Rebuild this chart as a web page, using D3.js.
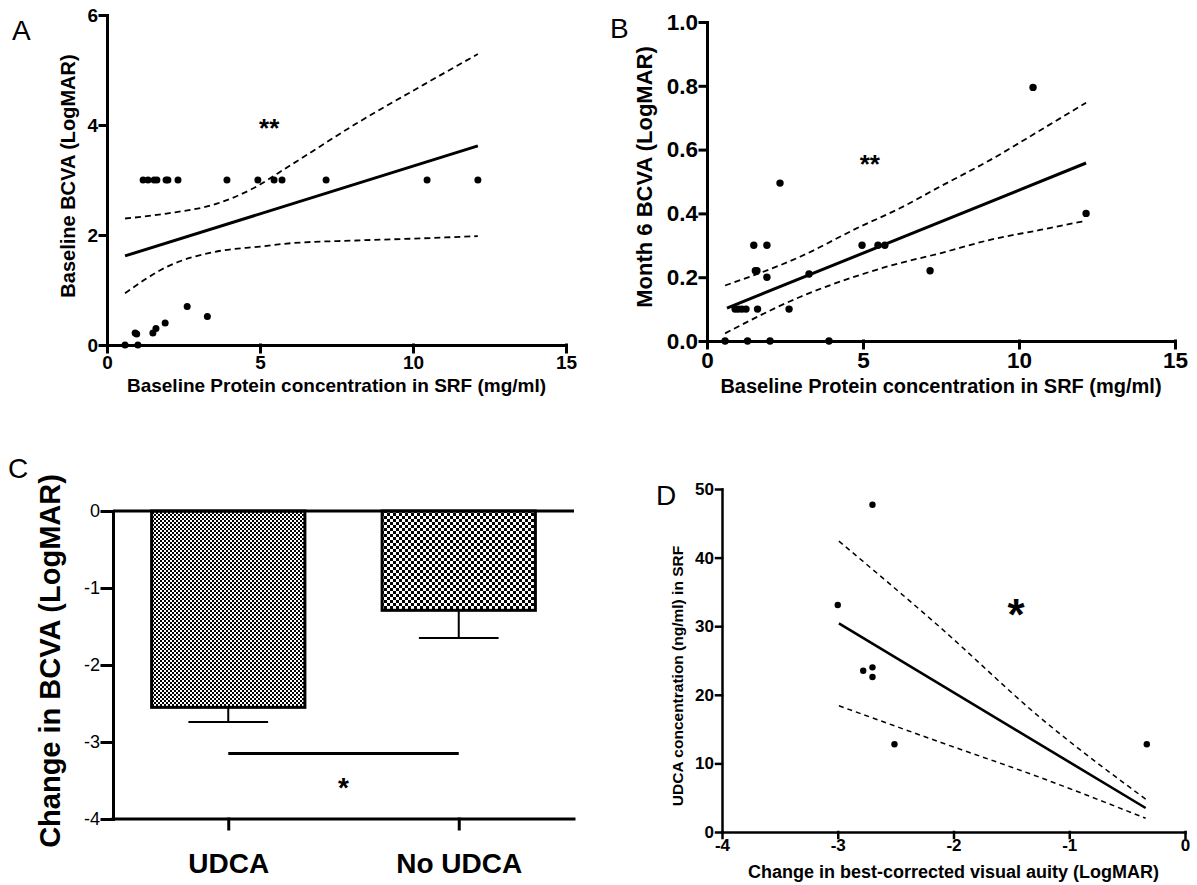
<!DOCTYPE html>
<html lang="en">
<head>
<meta charset="UTF-8">
<title>BCVA vs SRF protein / UDCA</title>
<style>
    body { margin: 0; background: #fff; }
    svg { display: block; font-family: Arial, "Liberation Sans", sans-serif; }
    .axis path, .axis line { stroke: #000; }
    .axis text { fill: #000; font-weight: bold; }
    .title { font-weight: bold; fill: #000; }
    .letter { font-weight: normal; fill: #000; }
</style>
</head>
<body>
<svg id="fig"></svg>
<script src="https://cdn.jsdelivr.net/npm/d3@7"></script>
<script>
    // panel A - baseline BCVA vs protein
    var aProtein  = [0.59, 0.92, 0.97, 1.01, 1.18, 1.34, 1.5, 1.54, 1.6, 1.63, 1.9, 1.93, 1.99, 2.32, 2.62, 3.28, 3.92, 4.93, 5.46, 5.72, 7.16, 10.46, 12.12];
    var aBaseline = [0, 0.22, 0.2, 0, 3, 3, 0.22, 3, 0.3, 3, 0.4, 3, 3, 3, 0.7, 0.52, 3, 3, 3, 3, 3, 3, 3];
    var aFitX = [0.59, 12.12], aFitY = [1.62, 3.62];
    var aUpX = [0.59, 1.95, 3.59, 4.68, 6.0, 8.16, 10.34, 12.12];
    var aUpY = [2.30, 2.39, 2.57, 2.82, 3.27, 4.03, 4.73, 5.29];
    var aLoX = [0.59, 1.95, 3.59, 5.0, 6.0, 8.16, 10.34, 12.12];
    var aLoY = [0.94, 1.42, 1.70, 1.79, 1.85, 1.90, 1.94, 1.98];

    // panel B - month 6 BCVA vs protein
    var bProtein = [0.58, 0.9, 1.0, 1.12, 1.25, 1.3, 1.5, 1.55, 1.6, 1.62, 1.92, 1.92, 2.02, 2.34, 2.63, 3.27, 3.91, 4.97, 5.48, 5.7, 7.15, 10.45, 12.15];
    var bMonth6  = [0, 0.1, 0.1, 0.1, 0.1, 0, 0.3, 0.22, 0.22, 0.1, 0.2, 0.3, 0, 0.495, 0.1, 0.21, 0, 0.3, 0.3, 0.3, 0.22, 0.795, 0.4];
    var bFitX = [0.64, 12.15], bFitY = [0.103, 0.558];
    var bUpX = [0.58, 2.98, 4.9, 6.18, 7.47, 9.07, 10.67, 12.15];
    var bUpY = [0.174, 0.264, 0.358, 0.416, 0.484, 0.567, 0.66, 0.747];
    var bLoX = [0.58, 2.98, 4.9, 5.87, 7.47, 9.07, 10.67, 12.15];
    var bLoY = [0.024, 0.138, 0.207, 0.236, 0.275, 0.317, 0.348, 0.377];

    // panel C - change in BCVA by group
    var groups = ["UDCA", "No UDCA"];
    var changeMean = [-2.55, -1.29];
    var changeSem = [0.19, 0.36];
    var cTicks = [0, -1, -2, -3, -4];
    var sigLevel = -3.15;

    // panel D - UDCA concentration vs change in BCVA
    var dChange = [-3.0, -2.7, -2.78, -2.7, -2.7, -2.51, -0.33];
    var dUdca   = [33.1, 47.7, 23.5, 24.0, 22.6, 12.8, 12.8];
    var dFitX = [-2.99, -0.34], dFitY = [30.4, 3.5];
    var dUpX = [-2.99, -2.12, -1.26, -0.34], dUpY = [42.4, 29.9, 16.8, 4.8];
    var dLoX = [-2.99, -2.1, -1.26, -0.34], dLoY = [18.4, 13.0, 8.0, 2.0];

    var width = 1197, height = 885;
    var svg = d3.select("#fig").attr("width", width).attr("height", height);

    var plain = function (d) { return String(d); };

    function zip(xs, ys) {
        return xs.map(function (v, i) { return [v, ys[i]]; });
    }

    function scatterPanel(p) {
        var x = d3.scaleLinear().domain(p.xDomain).range(p.xRange);
        var y = d3.scaleLinear().domain(p.yDomain).range(p.yRange);
        var g = svg.append("g");

        var xAxis = d3.axisBottom(x).tickValues(p.xTicks).tickSize(p.tick).tickSizeOuter(0)
            .tickPadding(p.xPad).tickFormat(p.xFormat || plain);
        var yAxis = d3.axisLeft(y).tickValues(p.yTicks).tickSize(p.tick).tickSizeOuter(0)
            .tickPadding(p.yPad).tickFormat(p.yFormat || plain);

        [[xAxis, "translate(0," + p.yRange[0] + ")"], [yAxis, "translate(" + p.xRange[0] + ",0)"]].forEach(function (a) {
            var ax = g.append("g").attr("class", "axis").attr("transform", a[1]).call(a[0]);
            ax.attr("font-family", null).attr("font-size", null);
            ax.selectAll("path, line").attr("stroke-width", p.axisW).attr("stroke-linecap", "square");
            ax.selectAll("text").style("font-size", p.tickFont + "px").style("font-weight", "bold");
        });

        var line = d3.line().x(function (d) { return x(d[0]); }).y(function (d) { return y(d[1]); });
        var curve = d3.line().curve(d3.curveMonotoneX).x(function (d) { return x(d[0]); }).y(function (d) { return y(d[1]); });

        [zip(p.upX, p.upY), zip(p.loX, p.loY)].forEach(function (band) {
            g.append("path").attr("d", curve(band)).attr("fill", "none").attr("stroke", "#000")
                .attr("stroke-width", p.dashW).attr("stroke-dasharray", p.dash);
        });
        g.append("path").attr("d", line(zip(p.fitX, p.fitY))).attr("fill", "none")
            .attr("stroke", "#000").attr("stroke-width", p.fitW);

        g.selectAll("circle").data(zip(p.px, p.py)).enter().append("circle")
            .attr("cx", function (d) { return x(d[0]); })
            .attr("cy", function (d) { return y(d[1]); })
            .attr("r", p.r).attr("fill", "#000");

        g.append("text").attr("class", "title")
            .attr("x", x(p.star[0])).attr("y", y(p.star[1]))
            .attr("text-anchor", "middle").style("font-size", p.starFont + "px").text(p.starText);

        // axis titles
        g.append("text").attr("class", "title")
            .attr("x", (p.xRange[0] + p.xRange[1]) / 2).attr("y", p.xTitleY)
            .attr("text-anchor", "middle").style("font-size", p.xTitleFont + "px").text(p.xTitle);
        g.append("text").attr("class", "title")
            .attr("transform", "translate(" + p.yTitleX + "," + p.yTitleMid + ") rotate(-90)")
            .attr("text-anchor", "middle").style("font-size", p.yTitleFont + "px").text(p.yTitle);

        g.append("text").attr("class", "letter").attr("x", p.letterPos[0]).attr("y", p.letterPos[1])
            .style("font-size", "28px").text(p.letter);
    }

    //A
    scatterPanel({
        xDomain: [0, 15], yDomain: [0, 6], xRange: [107, 566], yRange: [345, 15],
        xTicks: [0, 5, 10, 15], yTicks: [0, 2, 4, 6],
        tick: 7, xPad: 4, yPad: 2, axisW: 3, tickFont: 19,
        px: aProtein, py: aBaseline, r: 3.5,
        fitX: aFitX, fitY: aFitY, upX: aUpX, upY: aUpY, loX: aLoX, loY: aLoY,
        fitW: 3, dashW: 1.8, dash: "6,4",
        star: [5.3, 3.78], starText: "**", starFont: 26,
        xTitle: "Baseline Protein concentration in SRF (mg/ml)", xTitleY: 392, xTitleFont: 19,
        yTitle: "Baseline  BCVA (LogMAR)", yTitleX: 75, yTitleMid: 176, yTitleFont: 20,
        letter: "A", letterPos: [12, 40]
    });

    //B
    scatterPanel({
        xDomain: [0, 15], yDomain: [0, 1], xRange: [707, 1175], yRange: [341, 22],
        xTicks: [0, 5, 10, 15], yTicks: [0, 0.2, 0.4, 0.6, 0.8, 1.0], yFormat: d3.format(".1f"),
        tick: 7, xPad: 4, yPad: 2, axisW: 3, tickFont: 22.5,
        px: bProtein, py: bMonth6, r: 3.7,
        fitX: bFitX, fitY: bFitY, upX: bUpX, upY: bUpY, loX: bLoX, loY: bLoY,
        fitW: 3, dashW: 1.8, dash: "6,4",
        star: [5.22, 0.527], starText: "**", starFont: 26,
        xTitle: "Baseline Protein concentration in SRF (mg/ml)", xTitleY: 393, xTitleFont: 20,
        yTitle: "Month 6 BCVA (LogMAR)", yTitleX: 652, yTitleMid: 177, yTitleFont: 22,
        letter: "B", letterPos: [610, 38]
    });

    //D
    scatterPanel({
        xDomain: [-4, 0], yDomain: [0, 50], xRange: [722, 1185], yRange: [832, 489],
        xTicks: [-4, -3, -2, -1, 0], yTicks: [0, 10, 20, 30, 40, 50],
        tick: 6, xPad: 1, yPad: 2, axisW: 2.5, tickFont: 17,
        px: dChange, py: dUdca, r: 3.2,
        fitX: dFitX, fitY: dFitY, upX: dUpX, upY: dUpY, loX: dLoX, loY: dLoY,
        fitW: 2.6, dashW: 1.5, dash: "5,4",
        star: [-1.46, 29.4], starText: "*", starFont: 44,
        xTitle: "Change in best-corrected visual auity (LogMAR)", xTitleY: 878, xTitleFont: 18,
        yTitle: "UDCA concentration (ng/ml) in SRF", yTitleX: 683, yTitleMid: 676, yTitleFont: 15.5,
        letter: "D", letterPos: [656, 505]
    });

    //C - bar chart
    var defs = svg.append("defs");
    function checker(id, cell) {
        var pat = defs.append("pattern").attr("id", id).attr("patternUnits", "userSpaceOnUse")
            .attr("width", cell * 2).attr("height", cell * 2);
        pat.append("rect").attr("width", cell * 2).attr("height", cell * 2).attr("fill", "#fff");
        pat.append("rect").attr("width", cell).attr("height", cell).attr("fill", "#000");
        pat.append("rect").attr("x", cell).attr("y", cell).attr("width", cell).attr("height", cell).attr("fill", "#000");
    }
    checker("fine", 2);
    checker("coarse", 3);
    var fills = ["url(#fine)", "url(#coarse)"];

    var cx = d3.scalePoint().domain(groups).range([113, 574]).padding(0.5);
    var cy = d3.scaleLinear().domain([-4, 0]).range([819, 511]);
    var barW = cx.step() * 0.665;
    var gc = svg.append("g");

    gc.selectAll("rect.bar").data(groups).enter().append("rect").attr("class", "bar")
        .attr("x", function (d) { return cx(d) - barW / 2; })
        .attr("y", cy(0))
        .attr("width", barW)
        .attr("height", function (d, i) { return cy(changeMean[i]) - cy(0); })
        .attr("fill", function (d, i) { return fills[i]; })
        .attr("stroke", "#000").attr("stroke-width", 3);

    // error bars (downward only)
    groups.forEach(function (d, i) {
        var low = changeMean[i] - changeSem[i];
        gc.append("line").attr("x1", cx(d)).attr("x2", cx(d))
            .attr("y1", cy(changeMean[i])).attr("y2", cy(low))
            .attr("stroke", "#000").attr("stroke-width", 2);
        gc.append("line").attr("x1", cx(d) - barW * 0.26).attr("x2", cx(d) + barW * 0.26)
            .attr("y1", cy(low)).attr("y2", cy(low))
            .attr("stroke", "#000").attr("stroke-width", 2);
    });

    var cyAxis = gc.append("g").attr("class", "axis").attr("transform", "translate(113,0)")
        .call(d3.axisLeft(cy).tickValues(cTicks).tickSize(11).tickSizeOuter(0).tickPadding(2).tickFormat(plain));
    cyAxis.attr("font-family", null).attr("font-size", null);
    cyAxis.selectAll("text").style("font-size", "18px").style("font-weight", "normal");

    var cxAxis = gc.append("g").attr("class", "axis").attr("transform", "translate(0,819)")
        .call(d3.axisBottom(cx).tickSize(10).tickSizeOuter(0).tickPadding(24));
    cxAxis.attr("font-family", null).attr("font-size", null);
    cxAxis.select(".domain").attr("d", "M113,0H574");
    cxAxis.selectAll("text").style("font-size", "28px").style("font-weight", "bold");

    gc.selectAll(".axis path, .axis line").attr("stroke-width", 3).attr("stroke-linecap", "square");

    // zero line
    gc.append("line").attr("x1", 113).attr("x2", 574).attr("y1", cy(0)).attr("y2", cy(0))
        .attr("stroke", "#000").attr("stroke-width", 3);

    // significance bar
    gc.append("line").attr("x1", cx(groups[0])).attr("x2", cx(groups[1]))
        .attr("y1", cy(sigLevel)).attr("y2", cy(sigLevel))
        .attr("stroke", "#000").attr("stroke-width", 3);
    gc.append("text").attr("class", "title")
        .attr("x", (cx(groups[0]) + cx(groups[1])) / 2).attr("y", cy(sigLevel) + 43)
        .attr("text-anchor", "middle").style("font-size", "28px").text("*");

    gc.append("text").attr("class", "title")
        .attr("transform", "translate(60,661) rotate(-90)")
        .attr("text-anchor", "middle").style("font-size", "29px").text("Change in BCVA (LogMAR)");

    gc.append("text").attr("class", "letter").attr("x", 8).attr("y", 478)
        .style("font-size", "28px").text("C");
</script>
</body>
</html>
